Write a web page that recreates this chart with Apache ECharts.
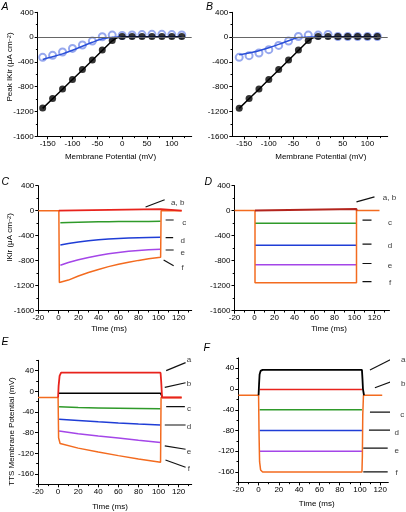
<!DOCTYPE html>
<html><head><meta charset="utf-8">
<script src="https://cdn.jsdelivr.net/npm/echarts@6/dist/echarts.min.js"></script>
<style>html,body{margin:0;padding:0;background:#fff}#c{width:406px;height:512px}</style>
</head><body><div id="c"></div>
<script>
// ---------- Panels A & B : peak IKir vs membrane potential ----------
const potentials = [-160,-140,-120,-100,-80,-60,-40,-20,0,20,40,60,80,100,120];
const peakA_filled = [-1145,-990,-838,-683,-523,-368,-208,-54,10,10,10,10,10,10,10];
const peakA_open   = [-326,-294,-240,-182,-128,-64,5,32,25,35,40,45,45,40,35];
const peakB_filled = [-1147,-990,-838,-683,-523,-368,-208,-54,10,10,10,10,10,10,10];
const peakB_open   = [-326,-299,-256,-203,-134,-64,10,32,32,43,10,10,10,10,10];
const fitPotentials = [-160,-140,-120,-100,-80,-60,-40,-20,-10,0,20,40,60,80,100,120];
const fitA_filled = [-1150,-995,-840,-685,-530,-372,-215,-60,-10,0,0,0,0,0,0,0];
const fitA_open   = [-360,-318,-270,-212,-148,-84,-28,-4,0,3,4,4,4,4,4,4];
const fitB_filled = [-1150,-995,-840,-685,-530,-372,-215,-60,-10,0,0,0,0,0,0,0];
const fitB_open   = [-285,-255,-220,-172,-118,-58,-8,0,1,2,3,3,3,3,3,3];

// ---------- Panel C : IKir time course (model 1) ----------
const timeC_pulse = [2,10,20,30,40,50,60,70,80,90,102];
const ikirC_c = [-192,-188,-184,-181,-178,-176,-174,-173,-172,-171,-170];
const ikirC_d = [-549,-525,-500,-480,-465,-452,-443,-436,-431,-428,-426];
const ikirC_e = [-874,-830,-785,-748,-716,-690,-668,-650,-635,-625,-617];
const timeC_f = [-20,0.5,1,2,10,20,30,40,50,60,70,80,90,102,102.5,123];
const ikirC_f = [0,0,-1150,-1178,-1110,-1045,-990,-940,-895,-858,-825,-795,-770,-746,0,0];
const timeC_ab = [0.5,1.5,102,102.5,123];
const ikirC_ab = [0,25,25,0,0];

// ---------- Panel D : IKir time course (model 2) ----------
const timeD_pulse = [0.5,102];
const ikirD_c = [-202,-202];
const ikirD_d = [-554,-554];
const ikirD_e = [-864,-864];
const timeD_f = [-20,0.5,0.5,102,102,125];
const ikirD_f = [0,0,-1152,-1152,0,0];
const timeD_ab = [0.5,0.5,102,102];
const ikirD_ab = [0,25,25,0];

// ---------- Panel E : TTS membrane potential (model 1) ----------
const timeE_pulse = [1,20,40,60,80,102];
const vmE_c = [-30,-31.5,-32.2,-32.8,-33.3,-33.8];
const vmE_d = [-54,-56.5,-59,-61.3,-63.3,-65];
const vmE_e = [-77,-82,-86.5,-90.5,-94.8,-99];
const timeE_f = [-20,0,0.5,2,20,40,60,80,102,102.5,123];
const vmE_f = [-12,-12,-90,-101,-110,-117.5,-124.5,-131,-137.5,-12,-12];
const timeE_a = [0,0.5,1.5,3,102,102.6,103.5,123];
const vmE_a = [-12,10,30,36,36,20,-12,-12];
const timeE_b = [0.5,102,103,104];
const vmE_b = [-4,-4,-8,-12];

// ---------- Panel F : TTS membrane potential (model 2) ----------
const timeF_pulse = [1,102];
const vmF_b = [-1,-1];
const vmF_c = [-40,-40];
const vmF_d = [-80,-80];
const vmF_e = [-120,-120];
const timeF_f = [-20,0,0.5,1,2,4,102,102.4,102.8,103.5,122];
const vmF_f = [-12,-12,-90,-140,-156,-160,-160,-130,-50,-12,-12];
const timeF_a = [0,0.5,1,2,4,102,102.5,103,104];
const vmF_a = [-12,10,28,35,37,37,20,0,-12];

// ---------- callout annotations (data coordinates) ----------
const calloutsC = [
  {text:'a, b', from:[87,59], to:[106,176], at:[119,128]},
  {text:'c', from:[107,-149], to:[115,-149], at:[125.5,-192]},
  {text:'d', from:[107,-432], to:[114.5,-432], at:[124,-480]},
  {text:'e', from:[107,-629], to:[115,-629], at:[124,-672]},
  {text:'f', from:[105,-789], to:[115,-880], at:[124,-912]}
];
const calloutsD = [
  {text:'a, b', from:[102,139], to:[120,219], at:[135,203]},
  {text:'c', from:[108,-154], to:[117,-154], at:[135.5,-190]},
  {text:'d', from:[108,-538], to:[117,-538], at:[135.5,-565]},
  {text:'e', from:[108,-846], to:[117,-846], at:[135.5,-878]},
  {text:'f', from:[108,-1134], to:[117,-1134], at:[135.5,-1150]}
];
const calloutsE = [
  {text:'a', from:[107.6,40], to:[126.9,55.4], at:[130.2,60.6]},
  {text:'b', from:[106.2,7.7], to:[126.9,16.6], at:[130.2,14.1]},
  {text:'c', from:[107.6,-29.8], to:[126.2,-29.8], at:[130.2,-34.2]},
  {text:'d', from:[106.2,-65.2], to:[126.9,-65.2], at:[130.2,-68.5]},
  {text:'e', from:[106.2,-105.8], to:[126.9,-112.2], at:[130.2,-116.9]},
  {text:'f', from:[106.9,-132.9], to:[126.9,-147], at:[130.2,-150.1]}
];
const calloutsF = [
  {text:'a', from:[109.9,36.7], to:[132.9,59.3], at:[142.8,56]},
  {text:'b', from:[114.8,2.5], to:[132.9,15.5], at:[142.8,11]},
  {text:'c', from:[109.9,-44.4], to:[132.9,-44.4], at:[141.8,-48.9]},
  {text:'d', from:[108.9,-79.2], to:[131.9,-79.2], at:[136.3,-83.7]},
  {text:'e', from:[103.3,-114], to:[127.4,-114], at:[136.3,-118.5]},
  {text:'f', from:[103.3,-159.8], to:[127.4,-159.8], at:[136.3,-161.7]}
];

// ---------- tick values ----------
const ticksPotential = [-150,-100,-50,0,50,100];
const minorPotential = [-125,-75,-25,25,75,125];
const ticksIkir = [-1600,-1200,-800,-400,0,400];
const minorIkir = [-1400,-1000,-600,-200,200];
const ticksTime = [-20,0,20,40,60,80,100,120];
const minorTime = [-10,10,30,50,70,90,110,130];
const ticksVm = [-160,-120,-80,-40,0,40];
const minorVm = [-180,-140,-100,-60,-20,20,60];

// ---------- layout / style ----------
const FONT = 'Liberation Sans, Arial, sans-serif';
const COL = {red:'#e8231c', darkred:'#b3241d', green:'#2f9a2a', blue:'#1f3dd6', purple:'#a446e8', orange:'#f36b1f', black:'#000000', fitBlue:'#2a4fd8', openBlue:'#7d92ea'};
const grids = [
  {left:37.7, top:12.3, width:154, height:124},
  {left:232.3, top:12.3, width:155.4, height:124},
  {left:38.3, top:185.7, width:153.4, height:125},
  {left:234.5, top:185.5, width:155, height:125.2},
  {left:38, top:360.3, width:153.7, height:124},
  {left:238.3, top:357.9, width:150, height:124.5}
];
const xRanges = [[-170,140],[-174,141],[-20,133],[-20,135],[-20,133],[-20,128]];
const yRanges = [[-1600,400],[-1600,400],[-1600,400],[-1600,400],[-180,60],[-180,60]];
const xTicks = [[ticksPotential,minorPotential],[ticksPotential,minorPotential],[ticksTime,minorTime],[ticksTime,minorTime],[ticksTime,minorTime],[ticksTime,minorTime]];
const yTicks = [[ticksIkir,minorIkir],[ticksIkir,minorIkir],[ticksIkir,minorIkir],[ticksIkir,minorIkir],[ticksVm,minorVm],[ticksVm,minorVm]];

function axes(dim, g, range, major, minor) {
  const pos = dim === 'x' ? 'bottom' : 'left';
  const base = {type:'value', gridIndex:g, min:range[0], max:range[1], position:pos, offset:0, splitLine:{show:false}, minorTick:{show:false}, minorSplitLine:{show:false}};
  const main = Object.assign({}, base, {
    axisLine:{show:true, onZero:false, lineStyle:{color:'#000', width:1}},
    axisTick:{show:true, inside:false, length:3, customValues:major, lineStyle:{color:'#000', width:1}},
    axisLabel:{show:true, customValues:major, formatter: v => String(v), fontSize:8, fontFamily:FONT, color:'#000', margin: dim === 'x' ? 3 : 4}
  });
  const mnr = Object.assign({}, base, {
    axisLine:{show:false, onZero:false},
    axisTick:{show:true, inside:false, length:1.8, customValues:minor, lineStyle:{color:'#000', width:1}},
    axisLabel:{show:false}
  });
  return [main, mnr];
}

const xAxis = [], yAxis = [];
for (let g = 0; g < 6; g++) {
  xAxis.push(...axes('x', g, xRanges[g], xTicks[g][0], xTicks[g][1]));
  yAxis.push(...axes('y', g, yRanges[g], yTicks[g][0], yTicks[g][1]));
}

const series = [];
function pairs(xs, ys) { return xs.map((x, i) => [x, ys[i]]); }
function trace(g, xs, ys, color, width, extra) {
  series.push(Object.assign({type:'line', xAxisIndex:2*g, yAxisIndex:2*g, data:pairs(xs, ys), symbol:'none', showSymbol:false, silent:true, lineStyle:{color:color, width:width}, clip:true}, extra || {}));
}
function points(g, xs, ys, filled) {
  series.push({type:'scatter', xAxisIndex:2*g, yAxisIndex:2*g, data:pairs(xs, ys), silent:true,
    symbol: filled ? 'circle' : 'emptyCircle', symbolSize: 7,
    itemStyle: filled ? {color:'#000'} : {color:COL.openBlue, borderColor:COL.openBlue, borderWidth:1.2}});
}
function callouts(g, list) {
  list.forEach(c => {
    series.push({type:'line', xAxisIndex:2*g, yAxisIndex:2*g, data:[c.from, c.to], symbol:'none', silent:true, clip:false, lineStyle:{color:'#111', width:1.2}});
  });
  series.push({type:'scatter', xAxisIndex:2*g, yAxisIndex:2*g, silent:true, clip:false, symbolSize:1,
    itemStyle:{color:'rgba(0,0,0,0)'},
    data: list.map(c => [c.at[0], c.at[1], c.text]),
    label:{show:true, position:'inside', formatter: p => p.value[2], fontSize:8, fontFamily:FONT, color:'#000'}});
}

const zeroLine = {silent:true, symbol:'none', label:{show:false}, lineStyle:{color:'#666', width:1, type:'solid'}, data:[{yAxis:0}]};

// A
trace(0, fitPotentials, fitA_open, COL.fitBlue, 1.5, {smooth:0.3, markLine:zeroLine});
points(0, potentials, peakA_open, false);
trace(0, fitPotentials, fitA_filled, '#000', 1.5);
points(0, potentials, peakA_filled, true);
// B
trace(1, fitPotentials, fitB_open, COL.fitBlue, 1.5, {smooth:0.3, markLine:zeroLine});
points(1, potentials, peakB_open, false);
trace(1, fitPotentials, fitB_filled, '#000', 1.5);
points(1, potentials, peakB_filled, true);
// C
trace(2, timeC_pulse, ikirC_c, COL.green, 1.5);
trace(2, timeC_pulse, ikirC_d, COL.blue, 1.5);
trace(2, timeC_pulse, ikirC_e, COL.purple, 1.5);
trace(2, timeC_f, ikirC_f, COL.orange, 1.5);
trace(2, timeC_ab, ikirC_ab, COL.red, 1.8);
callouts(2, calloutsC);
// D
trace(3, timeD_pulse, ikirD_c, COL.green, 1.5);
trace(3, timeD_pulse, ikirD_d, COL.blue, 1.5);
trace(3, timeD_pulse, ikirD_e, COL.purple, 1.5);
trace(3, timeD_f, ikirD_f, COL.orange, 1.5);
trace(3, timeD_ab, ikirD_ab, COL.darkred, 2);
callouts(3, calloutsD);
// E
trace(4, timeE_pulse, vmE_c, COL.green, 1.5);
trace(4, timeE_pulse, vmE_d, COL.blue, 1.5);
trace(4, timeE_pulse, vmE_e, COL.purple, 1.5);
trace(4, timeE_f, vmE_f, COL.orange, 1.5);
trace(4, timeE_b, vmE_b, '#000', 1.5);
trace(4, timeE_a, vmE_a, COL.red, 1.8);
callouts(4, calloutsE);
// F
trace(5, timeF_pulse, vmF_c, COL.green, 1.5);
trace(5, timeF_pulse, vmF_d, COL.blue, 1.5);
trace(5, timeF_pulse, vmF_e, COL.purple, 1.5);
trace(5, timeF_pulse, vmF_b, COL.red, 1.5);
trace(5, timeF_f, vmF_f, COL.orange, 1.5);
trace(5, timeF_a, vmF_a, '#000', 1.8);
callouts(5, calloutsF);

// ---------- text: panel letters and axis titles ----------
const supRich = {s:{fontSize:5.5, fontFamily:FONT, verticalAlign:'top', fill:'#000'}};
function txt(x, y, text, opts) {
  return Object.assign({type:'text', x:x, y:y, silent:true,
    style:{text:text, font:'8px ' + FONT, fill:'#000', align:'center', verticalAlign:'middle', rich:supRich}}, opts || {});
}
function letter(x, y, t) {
  return {type:'text', x:x, y:y, silent:true, style:{text:t, font:'italic 10.5px ' + FONT, fill:'#000', align:'left', verticalAlign:'top'}};
}
const graphic = [
  letter(1.5, 2, 'A'), letter(206, 2, 'B'), letter(1.5, 176.5, 'C'), letter(204.5, 176.5, 'D'), letter(1.5, 336.5, 'E'), letter(203.5, 343, 'F'),
  txt(10, 67, 'Peak IKir (μA cm{s|−2})', {rotation:Math.PI/2}),
  txt(10, 237.5, 'IKir (μA cm{s|−2})', {rotation:Math.PI/2}),
  txt(12, 431.5, 'TTS Membrane Potential (mV)', {rotation:Math.PI/2}),
  txt(110.5, 156.5, 'Membrane Potential (mV)'),
  txt(320.8, 156.5, 'Membrane Potential (mV)'),
  txt(109, 329, 'Time (ms)'),
  txt(329, 329, 'Time (ms)'),
  txt(110, 506.5, 'Time (ms)'),
  txt(316.7, 504, 'Time (ms)')
];

const chart = echarts.init(document.getElementById('c'), null, {renderer:'canvas'});
chart.setOption({
  animation:false,
  backgroundColor:'#fff',
  textStyle:{fontFamily:FONT},
  grid: grids.map(g => Object.assign({containLabel:false, outerBoundsMode:'none', show:false}, g)),
  xAxis: xAxis,
  yAxis: yAxis,
  series: series,
  graphic: graphic
});
</script>
</body></html>
